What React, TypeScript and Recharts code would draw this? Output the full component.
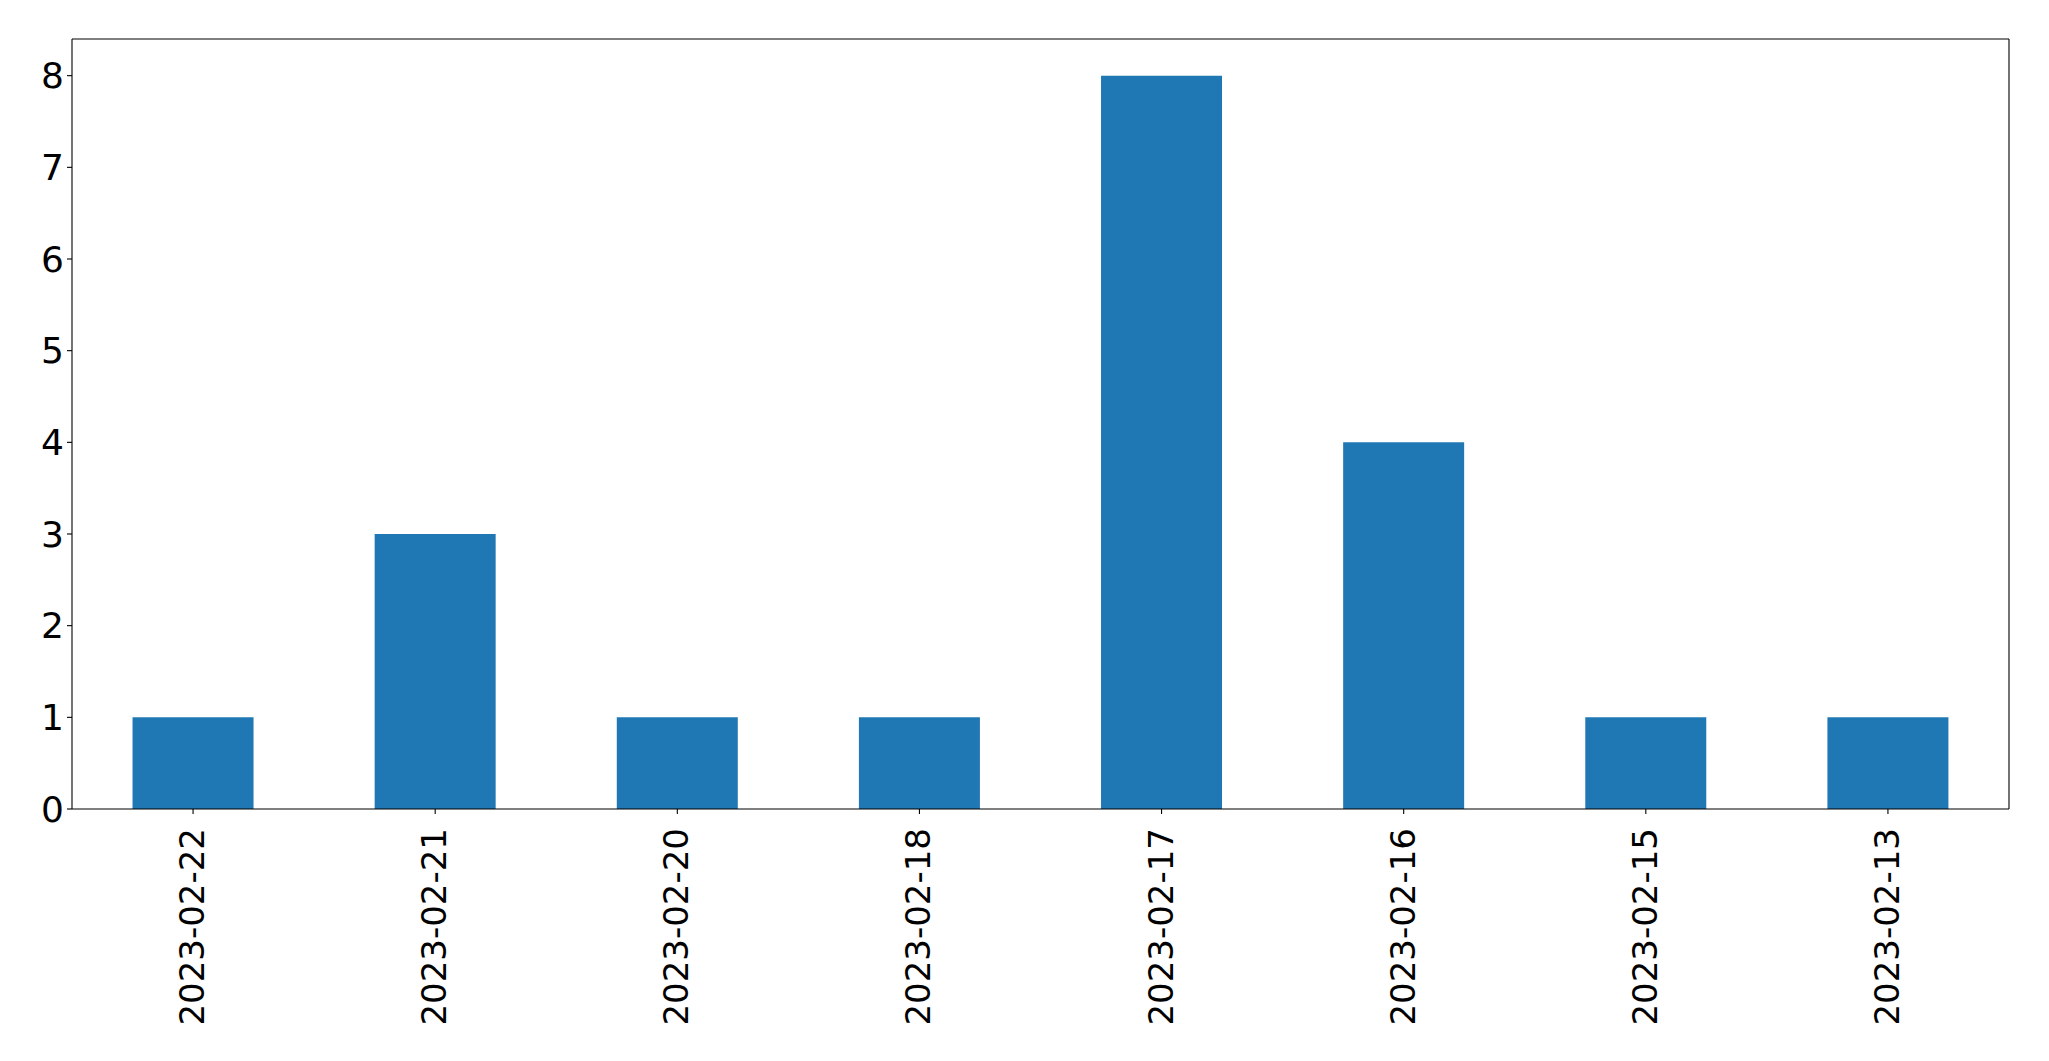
import { Bar, BarChart, CartesianGrid, XAxis, YAxis } from "recharts";

const DATES = [
  "2023-02-22",
  "2023-02-21",
  "2023-02-20",
  "2023-02-18",
  "2023-02-17",
  "2023-02-16",
  "2023-02-15",
  "2023-02-13",
];
const COUNTS = [1, 3, 1, 1, 8, 4, 1, 1];
const Y_TICKS = [0, 1, 2, 3, 4, 5, 6, 7, 8];

const BAR_COLOR = "#1f77b4";
const FONT = "'DejaVu Sans', sans-serif";

const rows = DATES.map((date, i) => ({ date, count: COUNTS[i] }));

function DateTick(props: any) {
  const { x, y, payload } = props;
  const ay = y + 14;
  return (
    <text
      x={x - 1}
      y={ay}
      transform={`rotate(-90, ${x - 1}, ${ay})`}
      textAnchor="end"
      dominantBaseline="central"
      fontFamily={FONT}
      fontSize={34}
      fill="#000"
    >
      {payload.value}
    </text>
  );
}

export default function App() {
  return (
    <div style={{ position: "absolute", left: 0, top: 0, background: "#fff" }}>
      <BarChart
        width={2049}
        height={1061}
        data={rows}
        margin={{ top: 39, right: 40, bottom: 0, left: 0 }}
        barCategoryGap="25%"
      >
        {/* top and right edges of the frame */}
        <CartesianGrid
          stroke="#000"
          strokeWidth={1.1}
          horizontalCoordinatesGenerator={({ offset }: any) => [offset.top]}
          verticalCoordinatesGenerator={({ offset }: any) => [offset.left + offset.width]}
        />
        <XAxis
          dataKey="date"
          height={252}
          interval={0}
          tickSize={5}
          tickMargin={0}
          tick={<DateTick />}
          axisLine={{ stroke: "#000", strokeWidth: 1.1 }}
          tickLine={{ stroke: "#000", strokeWidth: 1.1 }}
        />
        <YAxis
          width={72}
          domain={[0, 8.4]}
          ticks={Y_TICKS}
          interval={0}
          tickSize={5}
          tickMargin={3}
          tick={{ fill: "#000", fontFamily: FONT, fontSize: 36 }}
          axisLine={{ stroke: "#000", strokeWidth: 1.1 }}
          tickLine={{ stroke: "#000", strokeWidth: 1.1 }}
        />
        <Bar dataKey="count" fill={BAR_COLOR} isAnimationActive={false} />
      </BarChart>
    </div>
  );
}
